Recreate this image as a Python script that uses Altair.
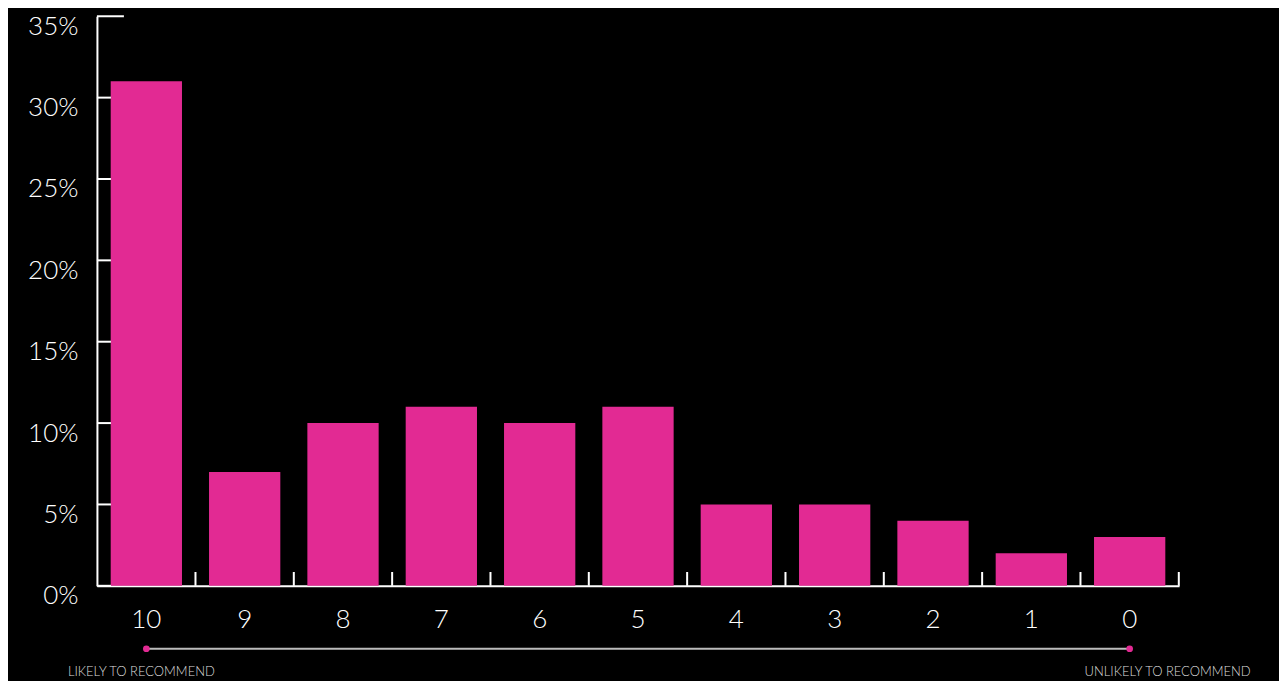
import altair as alt
import pandas as pd

scores = ["10", "9", "8", "7", "6", "5", "4", "3", "2", "1", "0"]
shares = [31, 7, 10, 11, 10, 11, 5, 5, 4, 2, 3]
y_ticks = [0, 5, 10, 15, 20, 25, 30]
y_top = [35]
scale_ends = ["10", "0"]
end_labels = [
    {"score": "10", "label": "LIKELY TO RECOMMEND", "side": "left"},
    {"score": "0", "label": "UNLIKELY TO RECOMMEND", "side": "right"},
]

PINK = "#E22A93"
FONT = "Lato"
W, H = 1083, 570

df = pd.DataFrame({"score": scores, "share": shares})
ticks_df = pd.DataFrame({"v": y_ticks})
top_df = pd.DataFrame({"v": y_top})
ends_df = pd.DataFrame({"score": scale_ends})
lab_df = pd.DataFrame(end_labels)

xscale = alt.Scale(domain=scores, paddingInner=0.275, paddingOuter=0.14)
yscale = alt.Scale(domain=[0, 35], nice=False)

bars = alt.Chart(df).mark_bar(color=PINK).encode(
    x=alt.X("score:N", scale=xscale, sort=scores,
            axis=alt.Axis(title=None, ticks=False, labelAngle=0, labelColor="white",
                          labelFontSize=26, labelFont=FONT, labelFontWeight=300, labelPadding=21,
                          domainColor="white", domainWidth=2)),
    y=alt.Y("share:Q", scale=yscale,
            axis=alt.Axis(title=None, ticks=False, grid=False, values=[0, 5, 10, 15, 20, 25, 30, 35],
                          labelExpr="datum.value + '%'", labelColor="white", labelFontSize=26,
                          labelFont=FONT, labelFontWeight=300, labelPadding=19, labelOffset=10,
                          domainColor="white", domainWidth=2)),
)

xticks = alt.Chart(df).mark_rule(color="white", strokeWidth=2, xOffset=13.5).encode(
    x=alt.X("score:N", scale=xscale, sort=scores, bandPosition=1),
    y=alt.datum(0),
    y2=alt.datum(0.85),
)

yt = alt.Chart(ticks_df).mark_rule(color="white", strokeWidth=2).encode(
    y=alt.Y("v:Q", scale=yscale), x=alt.value(0), x2=alt.value(14)
)
ytop = alt.Chart(top_df).mark_rule(color="white", strokeWidth=2).encode(
    y=alt.Y("v:Q", scale=yscale), x=alt.value(0), x2=alt.value(27)
)

line = alt.Chart(ends_df).mark_line(color="#bbbbbb", strokeWidth=2).encode(
    x=alt.X("score:N", scale=xscale, sort=scores), y=alt.value(H + 63)
)
dots = alt.Chart(ends_df).mark_circle(color=PINK, size=45, opacity=1).encode(
    x=alt.X("score:N", scale=xscale, sort=scores), y=alt.value(H + 63)
)
left_lab = alt.Chart(lab_df[lab_df.side == "left"]).mark_text(
    color="#dddddd", fontSize=13, font=FONT, fontWeight=300, align="center", baseline="middle", dx=-5
).encode(x=alt.X("score:N", scale=xscale, sort=scores), y=alt.value(H + 86), text="label:N")
right_lab = alt.Chart(lab_df[lab_df.side == "right"]).mark_text(
    color="#dddddd", fontSize=13, font=FONT, fontWeight=300, align="center", baseline="middle", dx=38
).encode(x=alt.X("score:N", scale=xscale, sort=scores), y=alt.value(H + 86), text="label:N")

chart = alt.layer(bars, xticks, yt, ytop, line, dots, left_lab, right_lab).properties(
    width=W, height=H,
    autosize=alt.AutoSizeParams(type="none"),
    padding={"left": 89, "top": 8, "right": 100, "bottom": 95},
    background="black",
).configure_view(stroke=None)

chart.save("out.html", embed_options={"renderer": "svg", "actions": False})
